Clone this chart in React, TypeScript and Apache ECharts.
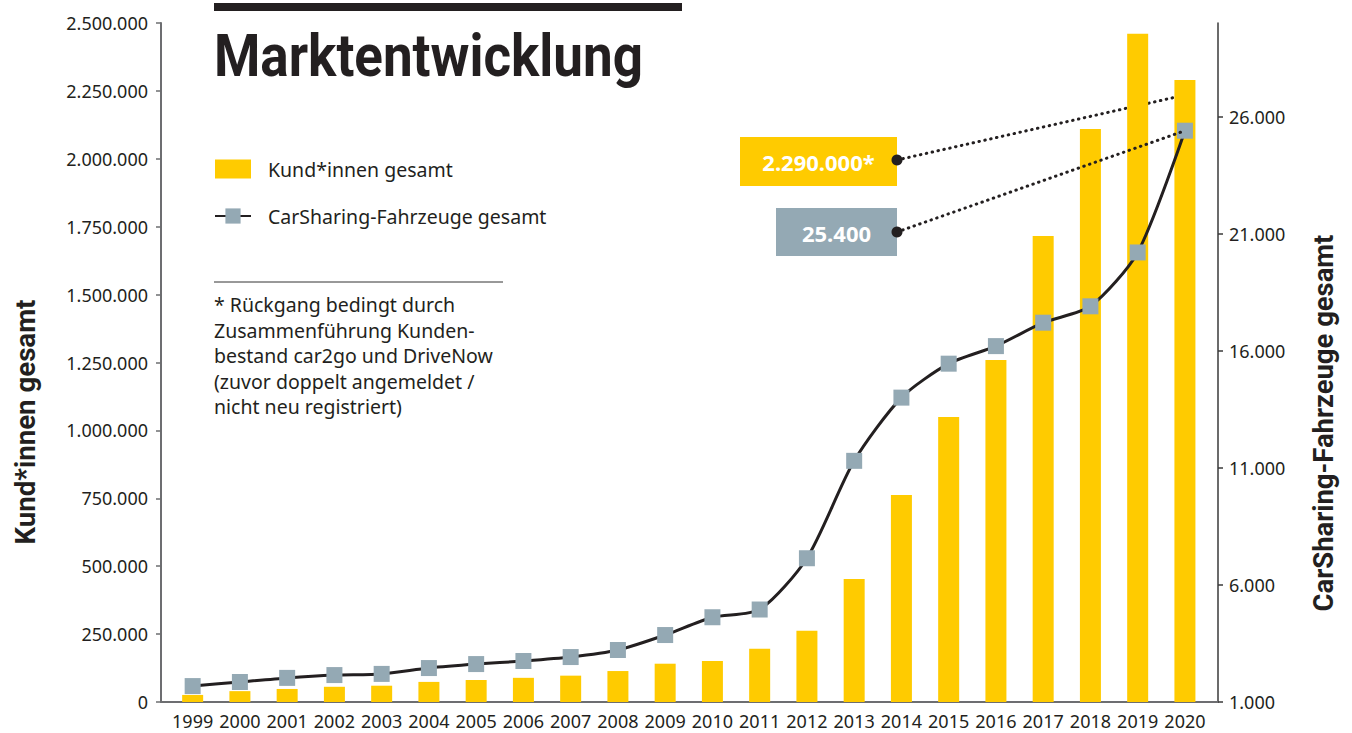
import React, { useEffect, useRef } from 'react';
import * as echarts from 'echarts';

const years = [1999, 2000, 2001, 2002, 2003, 2004, 2005, 2006, 2007, 2008, 2009, 2010, 2011, 2012, 2013, 2014, 2015, 2016, 2017, 2018, 2019, 2020];
const customers = [26000, 40000, 48000, 56000, 60000, 74000, 81000, 89000, 97000, 114000, 141000, 151000, 196000, 262000, 453000, 762000, 1049000, 1259000, 1716000, 2110000, 2460000, 2290000];
const vehicles = [1680, 1855, 2030, 2150, 2200, 2450, 2620, 2750, 2920, 3220, 3860, 4620, 4950, 7140, 11300, 14000, 15450, 16200, 17200, 17900, 20200, 25400];
const rightTicks = [1000, 6000, 11000, 16000, 21000, 26000];
const seriesNames = ['Kund*innen gesamt', 'CarSharing-Fahrzeuge gesamt'];
const titleText = 'Marktentwicklung';
const footnoteLines = [
  '* Rückgang bedingt durch',
  'Zusammenführung Kunden-',
  'bestand car2go und DriveNow',
  '(zuvor doppelt angemeldet /',
  'nicht neu registriert)',
];

const YELLOW = '#ffcb00';
const GRAY = '#94a9b4';
const DARK = '#231f20';
const AXIS = '#6d6e71';
const SANS = "'Noto Sans', 'Open Sans', sans-serif";
const BOLDF = "Roboto, 'Noto Sans', sans-serif";

const de = (v: number) => String(v).replace(/\B(?=(\d{3})+(?!\d))/g, '.');

const measure = (text: string, font: string) => {
  const ctx = document.createElement('canvas').getContext('2d');
  if (!ctx) return 1;
  ctx.font = font;
  return ctx.measureText(text).width || 1;
};

export default function App() {
  const ref = useRef<HTMLDivElement>(null);
  useEffect(() => {
    if (!ref.current) return;
    const chart = echarts.init(ref.current, undefined, { renderer: 'svg' });
    chart.setOption({
      animation: false,
      backgroundColor: '#ffffff',
      grid: { left: 161, right: 134, top: 23, bottom: 31, containLabel: false },
      legend: {
        orient: 'vertical',
        left: 214,
        top: 159,
        padding: 0,
        itemWidth: 36,
        itemHeight: 19,
        itemGap: 27,
        selectedMode: false,
        textStyle: { fontFamily: SANS, fontSize: 19.5, color: DARK, padding: [0, 0, 0, 12] },
        data: [{ name: seriesNames[0], icon: 'rect' }, { name: seriesNames[1] }],
      },
      xAxis: {
        type: 'value',
        min: 1998.33,
        max: 2020.7,
        splitLine: { show: false },
        axisTick: { show: false },
        axisLine: { show: true, lineStyle: { color: AXIS, width: 2 } },
        axisLabel: {
          customValues: years,
          formatter: (v: number) => String(v),
          fontFamily: SANS,
          fontSize: 18,
          color: DARK,
          margin: 10,
        },
      },
      yAxis: [
        {
          type: 'value',
          min: 0,
          max: 2500000,
          interval: 250000,
          position: 'left',
          splitLine: { show: false },
          axisLine: { show: true, lineStyle: { color: AXIS, width: 2 } },
          axisTick: { show: true, length: 5, lineStyle: { color: AXIS, width: 1.5 } },
          axisLabel: { formatter: (v: number) => de(v), fontFamily: SANS, fontSize: 18, color: DARK, margin: 13 },
        },
        {
          type: 'value',
          min: 1000,
          max: 30000,
          position: 'right',
          splitLine: { show: false },
          axisLine: { show: true, lineStyle: { color: '#3a3a3a', width: 1.5 } },
          axisTick: { show: true, length: 5, customValues: rightTicks, lineStyle: { color: '#3a3a3a', width: 1.5 } },
          axisLabel: { customValues: rightTicks, formatter: (v: number) => de(v), fontFamily: SANS, fontSize: 18, color: DARK, margin: 11 },
        },
      ],
      series: [
        {
          name: seriesNames[0],
          type: 'bar',
          yAxisIndex: 0,
          barWidth: 21,
          itemStyle: { color: YELLOW },
          data: years.map((y, i) => [y, customers[i]]),
        },
        {
          name: seriesNames[1],
          type: 'line',
          yAxisIndex: 1,
          smooth: 0.25,
          symbol: 'rect',
          symbolSize: 16,
          z: 5,
          itemStyle: { color: GRAY },
          lineStyle: { color: DARK, width: 3 },
          data: years.map((y, i) => [y, vehicles[i]]),
        },
      ],
    });

    const last = years.length - 1;
    const barPt = chart.convertToPixel({ xAxisIndex: 0, yAxisIndex: 0 }, [years[last], customers[last]]) as number[];
    const linePt = chart.convertToPixel({ xAxisIndex: 0, yAxisIndex: 1 }, [years[last], vehicles[last]]) as number[];

    const titleFont = `bold 60px ${BOLDF}`;
    const nameFont = `bold 27px ${BOLDF}`;
    const titleScale = 429 / measure(titleText, titleFont);
    const leftNameScale = 245 / measure(seriesNames[0], nameFont);
    const rightNameScale = 377 / measure(seriesNames[1], nameFont);

    chart.setOption({
      graphic: [
        { type: 'rect', shape: { x: 214, y: 3, width: 468, height: 8 }, style: { fill: DARK } },
        {
          type: 'text',
          x: 214,
          y: 55,
          scaleX: titleScale,
          style: { text: titleText, fill: DARK, font: titleFont, align: 'left', verticalAlign: 'middle' },
        },
        {
          type: 'text',
          x: 26,
          y: 422,
          rotation: Math.PI / 2,
          scaleX: leftNameScale,
          style: { text: seriesNames[0], fill: DARK, font: nameFont, align: 'center', verticalAlign: 'middle' },
        },
        {
          type: 'text',
          x: 1324,
          y: 423,
          rotation: Math.PI / 2,
          scaleX: rightNameScale,
          style: { text: seriesNames[1], fill: DARK, font: nameFont, align: 'center', verticalAlign: 'middle' },
        },
        { type: 'line', shape: { x1: 214, y1: 282, x2: 503, y2: 282 }, style: { stroke: '#333333', lineWidth: 1 } },
        {
          type: 'text',
          x: 214,
          y: 292,
          style: {
            text: footnoteLines.join('\n'),
            fill: DARK,
            font: `19.5px ${SANS}`,
            lineHeight: 25.5,
            align: 'left',
            verticalAlign: 'top',
          },
        },
        { type: 'line', shape: { x1: 897, y1: 160, x2: barPt[0], y2: barPt[1] + 15 }, style: { stroke: DARK, lineWidth: 3, lineDash: [0.5, 5.5], lineCap: 'round' } },
        { type: 'line', shape: { x1: 897, y1: 232, x2: linePt[0], y2: linePt[1] }, style: { stroke: DARK, lineWidth: 3, lineDash: [0.5, 5.5], lineCap: 'round' }, z: 10 },
        { type: 'rect', shape: { x: 740, y: 137, width: 157, height: 49 }, style: { fill: YELLOW } },
        { type: 'text', x: 818.5, y: 162, style: { text: de(customers[last]) + '*', fill: '#ffffff', font: `bold 22px ${SANS}`, align: 'center', verticalAlign: 'middle' } },
        { type: 'rect', shape: { x: 776, y: 208, width: 121, height: 48 }, style: { fill: GRAY } },
        { type: 'text', x: 836.5, y: 233, style: { text: de(vehicles[last]), fill: '#ffffff', font: `bold 22px ${SANS}`, align: 'center', verticalAlign: 'middle' } },
        { type: 'circle', shape: { cx: 897, cy: 160, r: 5.5 }, style: { fill: DARK } },
        { type: 'circle', shape: { cx: 897, cy: 232, r: 5.5 }, style: { fill: DARK } },
      ],
    });

    return () => chart.dispose();
  }, []);
  return <div ref={ref} style={{ position: 'absolute', left: 0, top: 0, width: 1352, height: 733 }} />;
}
